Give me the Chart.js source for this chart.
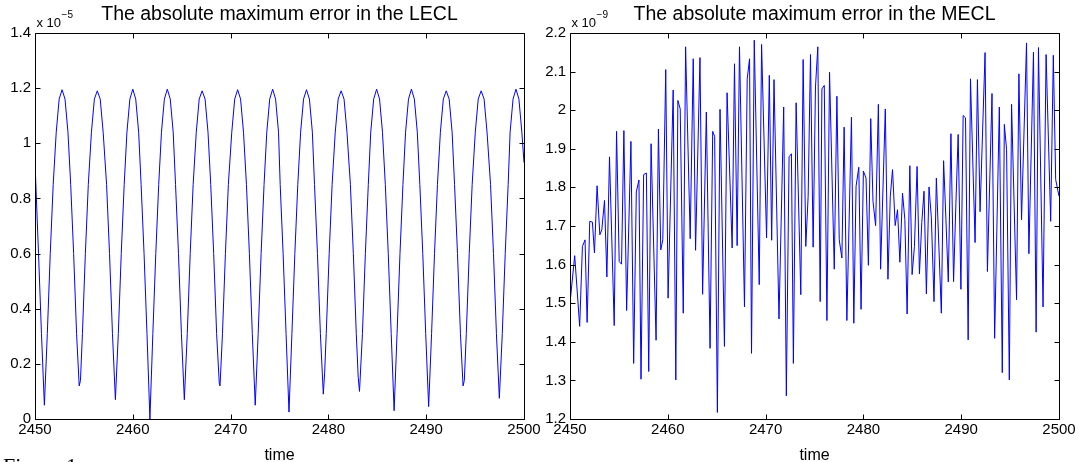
<!DOCTYPE html>
<html>
<head>
<meta charset="utf-8">
<script src="https://cdn.jsdelivr.net/npm/chart.js@4.4.1/dist/chart.umd.min.js"></script>
<style>
  html, body { margin: 0; padding: 0; background: #fff; overflow: hidden; }
  #wrap { position: relative; width: 1078px; height: 462px; overflow: hidden; }
  #lecl { position: absolute; left: 0; top: 0; }
  #mecl { position: absolute; left: 540px; top: 0; }
  #figlabel { position: absolute; left: 3px; top: 455px; font: 22px "Liberation Serif", serif; line-height: 1; color: #000; white-space: nowrap; }
</style>
</head>
<body>
<div id="wrap">
  <canvas id="lecl" width="540" height="462"></canvas>
  <canvas id="mecl" width="538" height="462"></canvas>
  <div id="figlabel">Figure 1:</div>
</div>
<script>
// x 10^-5, LECL error
const timeLECL = [
  2450.00, 2450.36, 2450.66, 2450.96,
  2451.26, 2451.56, 2451.86, 2452.17, 2452.47, 2452.77,
  2453.07, 2453.37, 2453.65, 2453.95, 2454.25, 2454.52, 2454.65,
  2454.85, 2455.15, 2455.45, 2455.77, 2456.07, 2456.37,
  2456.67, 2456.97, 2457.32, 2457.62, 2457.92, 2458.22,
  2458.52, 2458.82, 2459.12, 2459.40, 2459.70, 2460.00,
  2460.30, 2460.60, 2460.85, 2461.15, 2461.45, 2461.75,
  2462.05, 2462.35, 2462.65, 2462.93, 2463.23, 2463.53,
  2463.83, 2464.13, 2464.37, 2464.67, 2464.97, 2465.27,
  2465.57, 2465.87, 2466.17, 2466.49, 2466.79, 2467.09,
  2467.39, 2467.69, 2467.97, 2468.27, 2468.57, 2468.84, 2468.92,
  2469.17, 2469.47, 2469.77, 2470.12, 2470.42, 2470.72,
  2471.02, 2471.32, 2471.62, 2471.92, 2472.22, 2472.52,
  2472.82, 2473.12, 2473.42, 2473.70, 2474.00, 2474.30,
  2474.60, 2474.90, 2475.07, 2475.37, 2475.67, 2475.97,
  2476.27, 2476.57, 2476.87, 2477.16, 2477.46, 2477.76,
  2478.06, 2478.36, 2478.58, 2478.88, 2479.18, 2479.48, 2479.62,
  2479.78, 2480.08, 2480.38, 2480.70, 2481.00, 2481.30,
  2481.60, 2481.90, 2482.25, 2482.55, 2482.85, 2483.05, 2483.18,
  2483.48, 2483.78, 2484.08, 2484.33, 2484.63, 2484.93,
  2485.23, 2485.53, 2485.82, 2486.12, 2486.42, 2486.72,
  2487.02, 2487.32, 2487.62, 2487.89, 2488.19, 2488.49,
  2488.79, 2489.09, 2489.35, 2489.65, 2489.95, 2490.25,
  2490.55, 2490.85, 2491.15, 2491.45, 2491.75, 2492.05,
  2492.35, 2492.65, 2492.90, 2493.20, 2493.50, 2493.77, 2493.90,
  2494.10, 2494.40, 2494.70, 2495.02, 2495.32, 2495.62,
  2495.92, 2496.22, 2496.58, 2496.88, 2497.18, 2497.48,
  2497.78, 2498.08, 2498.38, 2498.58, 2498.88, 2499.18,
  2499.48, 2499.78, 2500.00
];
const errLECL = [
  0.93, 0.60, 0.31, 0.05,
  0.31, 0.60, 0.85, 1.04, 1.16, 1.194,
  1.16, 1.04, 0.85, 0.60, 0.31, 0.12, 0.14,
  0.31, 0.60, 0.85, 1.04, 1.16, 1.19,
  1.16, 1.04, 0.85, 0.60, 0.31, 0.07,
  0.31, 0.60, 0.85, 1.04, 1.16, 1.196,
  1.16, 1.04, 0.85, 0.60, 0.31, 0.00,
  0.31, 0.60, 0.85, 1.04, 1.16, 1.196,
  1.16, 1.04, 0.85, 0.60, 0.31, 0.07,
  0.31, 0.60, 0.85, 1.04, 1.16, 1.19,
  1.16, 1.04, 0.85, 0.60, 0.31, 0.13, 0.12,
  0.31, 0.60, 0.85, 1.04, 1.16, 1.194,
  1.16, 1.04, 0.85, 0.60, 0.31, 0.05,
  0.31, 0.60, 0.85, 1.04, 1.16, 1.196,
  1.16, 1.04, 0.85, 0.60, 0.31, 0.025,
  0.31, 0.60, 0.85, 1.04, 1.16, 1.194,
  1.16, 1.04, 0.85, 0.60, 0.31, 0.09, 0.17,
  0.31, 0.60, 0.85, 1.04, 1.16, 1.19,
  1.16, 1.04, 0.85, 0.60, 0.31, 0.15, 0.10,
  0.31, 0.60, 0.85, 1.04, 1.16, 1.196,
  1.16, 1.04, 0.85, 0.60, 0.31, 0.03,
  0.31, 0.60, 0.85, 1.04, 1.16, 1.196,
  1.16, 1.04, 0.85, 0.60, 0.31, 0.045,
  0.31, 0.60, 0.85, 1.04, 1.16, 1.19,
  1.16, 1.04, 0.85, 0.60, 0.31, 0.12, 0.14,
  0.31, 0.60, 0.85, 1.04, 1.16, 1.19,
  1.16, 1.04, 0.85, 0.60, 0.31, 0.075,
  0.31, 0.60, 0.85, 1.04, 1.16, 1.196,
  1.16, 1.04, 0.93
];

// x 10^-9, MECL error
const timeMECL = [
  2450.00, 2450.48, 2450.99, 2451.27, 2451.54, 2451.75, 2452.02, 2452.29, 2452.50, 2452.77,
  2453.05, 2453.25, 2453.53, 2453.77, 2454.04, 2454.52, 2454.76, 2455.03, 2455.27, 2455.51,
  2455.79, 2456.23, 2456.51, 2456.78, 2457.05, 2457.26, 2457.53, 2457.81, 2458.05, 2458.29,
  2458.80, 2459.04, 2459.28, 2459.49, 2459.79, 2460.03, 2460.55, 2460.82, 2461.03, 2461.27,
  2461.58, 2461.82, 2462.29, 2462.60, 2462.84, 2463.29, 2463.56, 2463.94, 2464.32, 2464.59,
  2464.79, 2465.07, 2465.34, 2465.79, 2466.06, 2466.58, 2466.82, 2467.09, 2467.33, 2467.84,
  2468.12, 2468.36, 2468.56, 2468.84, 2469.35, 2469.59, 2470.10, 2470.38, 2470.62, 2470.86,
  2471.37, 2471.85, 2472.12, 2472.40, 2472.64, 2472.84, 2473.12, 2473.60, 2473.84, 2474.11,
  2474.35, 2474.59, 2474.86, 2475.10, 2475.34, 2475.58, 2475.76, 2476.00, 2476.27, 2476.54,
  2477.02, 2477.29, 2477.53, 2477.80, 2478.03, 2478.31, 2478.78, 2479.02, 2479.25, 2479.53,
  2479.76, 2480.00, 2480.27, 2480.51, 2480.75, 2480.98, 2481.25, 2481.53, 2481.76, 2482.24,
  2482.51, 2482.75, 2482.98, 2483.25, 2483.49, 2483.73, 2484.00, 2484.24, 2484.47, 2484.75,
  2484.98, 2485.22, 2485.49, 2485.73, 2485.97, 2486.20, 2486.44, 2486.71, 2486.95, 2487.22,
  2487.46, 2487.97, 2488.20, 2488.44, 2488.68, 2488.95, 2489.22, 2489.46, 2489.69, 2489.97,
  2490.20, 2490.44, 2490.71, 2490.95, 2491.42, 2491.66, 2491.93, 2492.44, 2492.68, 2493.15,
  2493.42, 2493.90, 2494.20, 2494.41, 2494.64, 2494.92, 2495.15, 2495.66, 2495.90, 2496.17,
  2496.68, 2496.92, 2497.39, 2497.66, 2497.90, 2498.37, 2498.68, 2499.15, 2499.42, 2499.66,
  2500.00
];
const errMECL = [
  1.500, 1.623, 1.440, 1.647, 1.664, 1.450, 1.712, 1.710, 1.630, 1.804,
  1.677, 1.690, 1.766, 1.568, 1.879, 1.442, 1.945, 1.608, 1.601, 1.947,
  1.481, 1.919, 1.344, 1.788, 1.819, 1.303, 1.833, 1.837, 1.323, 1.913,
  1.404, 1.951, 1.638, 1.664, 2.105, 1.513, 2.052, 1.301, 2.025, 2.003,
  1.474, 2.164, 1.667, 2.133, 1.637, 2.136, 1.523, 1.995, 1.383, 1.945,
  1.932, 1.217, 2.002, 1.388, 2.045, 1.643, 2.120, 1.649, 2.164, 1.490,
  2.081, 2.133, 1.370, 2.181, 1.548, 2.170, 1.669, 2.090, 1.663, 2.079,
  1.459, 2.008, 1.260, 1.879, 1.887, 1.344, 2.019, 1.522, 2.131, 1.647,
  1.777, 2.144, 1.645, 2.060, 2.164, 1.504, 2.055, 2.064, 1.455, 2.098,
  1.588, 2.036, 1.664, 1.617, 1.956, 1.455, 1.982, 1.448, 1.803, 1.852,
  1.484, 1.842, 1.824, 1.598, 1.978, 1.764, 1.701, 2.015, 1.588, 2.003,
  1.562, 1.777, 1.846, 1.701, 1.742, 1.606, 1.785, 1.716, 1.472, 1.856,
  1.574, 1.647, 1.854, 1.576, 1.709, 1.790, 1.524, 1.801, 1.721, 1.504,
  1.824, 1.474, 1.869, 1.716, 1.555, 1.939, 1.556, 1.759, 1.937, 1.536,
  1.986, 1.980, 1.405, 2.081, 1.657, 2.079, 1.737, 2.149, 1.582, 2.043,
  1.409, 2.008, 1.320, 1.963, 1.898, 1.301, 2.015, 1.509, 2.094, 1.716,
  2.174, 1.628, 2.150, 1.425, 2.162, 1.490, 2.144, 1.712, 2.142, 1.820,
  1.777
];

const timeTicks = [2450, 2500, 10];
const FONT = '"Liberation Sans", Arial, Helvetica, sans-serif';

// matlab style box with inward ticks + "x 10^n" label
const matlabBox = {
  id: 'matlabBox',
  afterDatasetsDraw(chart, args, opts) {
    const { ctx, chartArea: a, scales: { x, y } } = chart;
    const L = Math.round(a.left) + 0.5, R = Math.round(a.right) + 0.5;
    const T = Math.round(a.top) + 0.5, B = Math.round(a.bottom) + 0.5;
    ctx.save();
    ctx.strokeStyle = '#000';
    ctx.lineWidth = 1;
    ctx.beginPath();
    x.ticks.forEach(t => {
      const px = Math.round(x.getPixelForValue(t.value)) + 0.5;
      ctx.moveTo(px, B); ctx.lineTo(px, B - 5);
      ctx.moveTo(px, T); ctx.lineTo(px, T + 5);
    });
    y.ticks.forEach(t => {
      const py = Math.round(y.getPixelForValue(t.value)) + 0.5;
      ctx.moveTo(L, py); ctx.lineTo(L + 5, py);
      ctx.moveTo(R, py); ctx.lineTo(R - 5, py);
    });
    ctx.rect(L, T, R - L, B - T);
    ctx.stroke();

    ctx.fillStyle = '#000';
    ctx.textAlign = 'left';
    ctx.textBaseline = 'alphabetic';
    ctx.font = '13px ' + FONT;
    ctx.fillText('x 10', a.left + 1.5, a.top - 5.5);
    const w = ctx.measureText('x 10').width;
    ctx.font = '10px ' + FONT;
    ctx.fillText('\u2212' + opts.exp, a.left + 2 + w, a.top - 14.5);
    ctx.restore();
  }
};

function makeChart(id, title, times, errs, yMin, yMax, yStep, exp, yWidth, padRight) {
  return new Chart(document.getElementById(id), {
    type: 'line',
    data: {
      datasets: [{
        data: times.map((t, i) => ({ x: t, y: errs[i] })),
        borderColor: '#0000ff',
        borderWidth: 1,
        pointRadius: 0,
        tension: 0,
        fill: false
      }]
    },
    options: {
      responsive: false,
      animation: false,
      layout: { padding: { left: 0, right: padRight, top: 0, bottom: 0 } },
      plugins: {
        legend: { display: false },
        tooltip: { enabled: false },
        title: {
          display: true,
          text: title,
          fullSize: false,
          color: '#000',
          font: { family: FONT, size: 19.5, weight: 'normal', lineHeight: 1.2 },
          padding: { top: 2.5, bottom: 7 }
        },
        matlabBox: { exp: exp }
      },
      scales: {
        x: {
          type: 'linear',
          min: timeTicks[0],
          max: timeTicks[1],
          grid: { display: false, drawTicks: false },
          border: { display: false },
          ticks: {
            stepSize: timeTicks[2],
            color: '#000',
            padding: 2,
            maxRotation: 0,
            font: { family: FONT, size: 15, lineHeight: 1.2 },
            callback: v => String(v)
          },
          title: {
            display: true,
            text: 'time',
            color: '#000',
            font: { family: FONT, size: 16, lineHeight: 0.75 },
            padding: { top: 0, bottom: 0 }
          },
          afterFit: s => { s.height = 43; s.paddingLeft = 0; s.paddingRight = 0; }
        },
        y: {
          type: 'linear',
          min: yMin,
          max: yMax,
          grid: { display: false, drawTicks: false },
          border: { display: false },
          ticks: {
            stepSize: yStep,
            color: '#000',
            padding: 4,
            font: { family: FONT, size: 15, lineHeight: 1.2 },
            callback: v => String(Math.round(v * 10) / 10)
          },
          afterFit: s => { s.width = yWidth; s.paddingTop = 0; s.paddingBottom = 0; }
        }
      }
    },
    plugins: [matlabBox]
  });
}

makeChart('lecl', 'The absolute maximum error in the LECL', timeLECL, errLECL, 0, 1.4, 0.2, '5', 35, 16);
makeChart('mecl', 'The absolute maximum error in the MECL', timeMECL, errMECL, 1.2, 2.2, 0.1, '9', 30, 19);
</script>
</body>
</html>
